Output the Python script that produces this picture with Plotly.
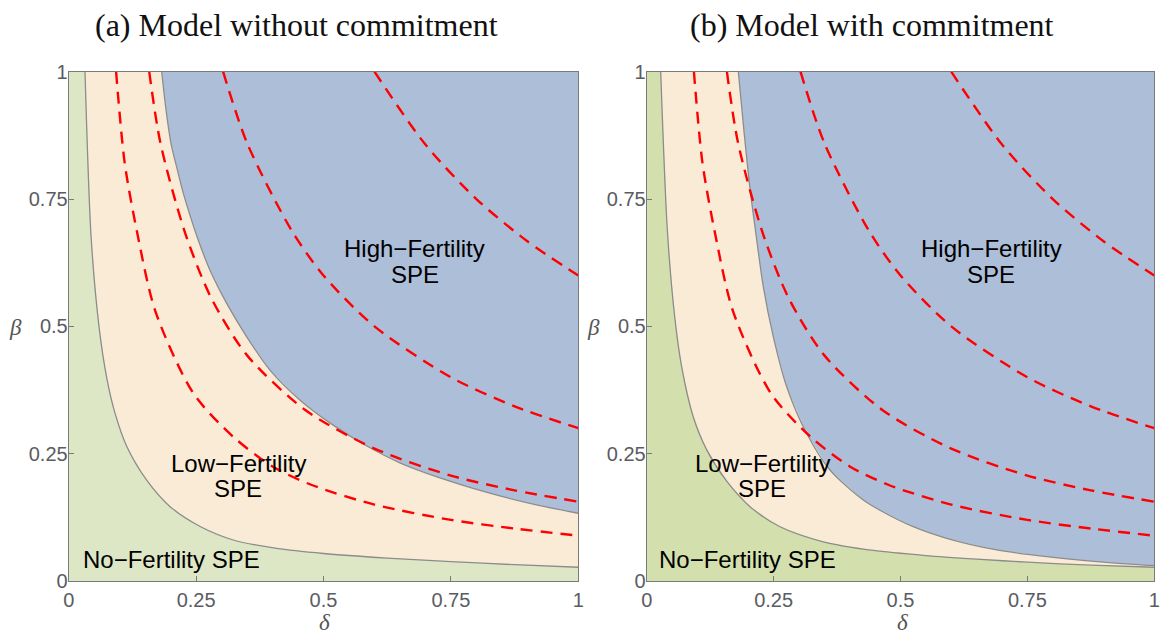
import plotly.graph_objects as go

# ---------------- data ----------------
AX_MIN, AX_MAX = 0.0, 1.0
TICK_VALS = [0, 0.25, 0.5, 0.75, 1]
TICK_TEXT = ["0", "0.25", "0.5", "0.75", "1"]

# Panel (a): No/Low-fertility boundary
A_NO_D = [0.032, 0.044, 0.060, 0.075, 0.091, 0.114, 0.153, 0.199, 0.258, 0.323, 0.408, 0.50, 0.625, 0.75, 0.875, 1.0]
A_NO_B = [1.000, 0.675, 0.495, 0.397, 0.329, 0.264, 0.198, 0.146, 0.107, 0.0805, 0.064, 0.054, 0.045, 0.038, 0.032, 0.027]
# Panel (a): Low/High-fertility boundary
A_HI_D = [0.1825, 0.191, 0.2008, 0.212, 0.225, 0.239, 0.254, 0.2773, 0.31, 0.349, 0.395, 0.454, 0.519, 0.585, 0.65, 0.748, 0.846, 0.92, 1.0]
A_HI_B = [1.000, 0.925, 0.859, 0.812, 0.761, 0.715, 0.670, 0.610, 0.545, 0.480, 0.414, 0.355, 0.306, 0.265, 0.232, 0.196, 0.167, 0.149, 0.133]

# Panel (b): No/Low-fertility boundary
B_NO_D = [0.0276, 0.0406, 0.055, 0.069, 0.0918, 0.118, 0.1576, 0.2035, 0.2626, 0.348, 0.4465, 0.55, 0.65, 0.75, 0.875, 1.0]
B_NO_B = [1.000, 0.690, 0.520, 0.420, 0.322, 0.258, 0.196, 0.146, 0.1066, 0.077, 0.060, 0.050, 0.043, 0.037, 0.031, 0.027]
# Panel (b): Low/High-fertility boundary
B_HI_D = [0.1805, 0.192, 0.2035, 0.2134, 0.2297, 0.2494, 0.2758, 0.315, 0.361, 0.4267, 0.4594, 0.525, 0.591, 0.69, 0.788, 0.887, 1.0]
B_HI_B = [1.000, 0.880, 0.770, 0.695, 0.578, 0.480, 0.3815, 0.290, 0.218, 0.159, 0.139, 0.1066, 0.0838, 0.061, 0.0477, 0.038, 0.030]

# Red dashed iso-curves (same in both panels)
D1_D = [0.093, 0.11, 0.1346, 0.17, 0.2446, 0.323, 0.40, 0.477, 0.60, 0.75, 0.875, 1.0]
D1_B = [1.000, 0.82, 0.683, 0.53, 0.3686, 0.283, 0.225, 0.1885, 0.150, 0.120, 0.103, 0.089]
D2_D = [0.158, 0.18, 0.2286, 0.28, 0.35, 0.4642, 0.60, 0.75, 0.875, 1.0]
D2_B = [1.000, 0.86, 0.683, 0.555, 0.443, 0.3358, 0.260, 0.207, 0.178, 0.1557]
D3_D = [0.303, 0.35, 0.4376, 0.50, 0.60, 0.75, 0.875, 1.0]
D3_B = [1.000, 0.86, 0.688, 0.60, 0.50, 0.40, 0.343, 0.30]
D4_D = [0.60, 0.70, 0.80, 0.90, 1.0]
D4_B = [1.000, 0.857, 0.75, 0.667, 0.60]

TITLES = ["(a) Model without commitment", "(b) Model with commitment"]
HIGH_LABEL = ["High\u2212Fertility", "SPE"]
LOW_LABEL = ["Low\u2212Fertility", "SPE"]
NO_LABEL = "No\u2212Fertility SPE"

# ---------------- styles ----------------
W, H = 1161, 634
GREEN = ["#DEE7C5", "#D3E0AE"]
BEIGE = "#FAEBD7"
BLUE = "#ADBED9"
EDGE = "#8C8C8C"
FRAME = "#7A7A7A"
TICKC = "#5A5C62"
RED = "#FF0000"

# plot areas in page pixels (left, right) ; shared top/bottom
PANEL_PX = [(68.7, 578.3), (646.7, 1154.3)]
TOP_PX, BOT_PX = 71.7, 581.0


def px(x):
    return x / W


def py(y):
    return 1 - y / H


fig = go.Figure()

panels = [
    (A_NO_D, A_NO_B, A_HI_D, A_HI_B),
    (B_NO_D, B_NO_B, B_HI_D, B_HI_B),
]

for i, (nd, nb, hd, hb) in enumerate(panels):
    xa = "x" if i == 0 else "x2"
    ya = "y" if i == 0 else "y2"
    fig.add_trace(go.Scatter(
        x=[AX_MIN, AX_MAX, AX_MAX, AX_MIN], y=[AX_MIN, AX_MIN, AX_MAX, AX_MAX],
        fill="toself", fillcolor=GREEN[i], line=dict(width=0), mode="lines",
        hoverinfo="skip", showlegend=False, xaxis=xa, yaxis=ya))
    fig.add_trace(go.Scatter(
        x=nd + [AX_MAX], y=nb + [AX_MAX],
        fill="toself", fillcolor=BEIGE, line=dict(width=0), mode="lines",
        hoverinfo="skip", showlegend=False, xaxis=xa, yaxis=ya))
    fig.add_trace(go.Scatter(
        x=hd + [AX_MAX], y=hb + [AX_MAX],
        fill="toself", fillcolor=BLUE, line=dict(width=0), mode="lines",
        hoverinfo="skip", showlegend=False, xaxis=xa, yaxis=ya))
    for d, b in ((nd, nb), (hd, hb)):
        fig.add_trace(go.Scatter(
            x=d, y=b, mode="lines", line=dict(color=EDGE, width=1.3, shape="spline", smoothing=0.8),
            hoverinfo="skip", showlegend=False, xaxis=xa, yaxis=ya))
    for d, b in ((D1_D, D1_B), (D2_D, D2_B), (D3_D, D3_B), (D4_D, D4_B)):
        fig.add_trace(go.Scatter(
            x=d, y=b, mode="lines",
            line=dict(color=RED, width=2.4, dash="12px,8px", shape="spline", smoothing=0.8),
            hoverinfo="skip", showlegend=False, xaxis=xa, yaxis=ya))

axis_common = dict(
    range=[AX_MIN, AX_MAX], showgrid=False, zeroline=False, automargin=False,
    showline=True, mirror=True, linecolor=FRAME, linewidth=1,
    ticks="inside", ticklen=5, tickwidth=1, tickcolor=FRAME,
    tickvals=TICK_VALS, ticktext=TICK_TEXT,
    tickfont=dict(family="Liberation Sans, Arial, sans-serif", size=20, color=TICKC),
    fixedrange=True,
)
ydom = [py(BOT_PX), py(TOP_PX)]
fig.update_layout(
    template="none",
    width=W, height=H,
    margin=dict(l=0, r=0, t=0, b=0, pad=0, autoexpand=False),
    paper_bgcolor="white", plot_bgcolor="white",
    showlegend=False,
    xaxis=dict(axis_common, ticklabelstandoff=1, domain=[px(PANEL_PX[0][0]), px(PANEL_PX[0][1])], anchor="y"),
    yaxis=dict(axis_common, ticklabelstandoff=-4, domain=ydom, anchor="x"),
    xaxis2=dict(axis_common, ticklabelstandoff=1, domain=[px(PANEL_PX[1][0]), px(PANEL_PX[1][1])], anchor="y2"),
    yaxis2=dict(axis_common, ticklabelstandoff=-4, domain=ydom, anchor="x2"),
)

ann = []
serif = "Liberation Serif, Times New Roman, serif"
sans = "Liberation Sans, Arial, sans-serif"
title_cx = [296, 872]
for i, (l, r) in enumerate(PANEL_PX):
    ann.append(dict(x=px(title_cx[i]), y=py(5), xref="paper", yref="paper", text=TITLES[i],
                    showarrow=False, font=dict(family=serif, size=32, color="#111"),
                    xanchor="center", yanchor="top"))
    ann.append(dict(x=px(l - 53), y=py(327), xref="paper", yref="paper", text="<i>β</i>",
                    showarrow=False, font=dict(family=serif, size=23, color="#555"),
                    xanchor="center", yanchor="middle"))
    ann.append(dict(x=px(l + 256), y=py(622), xref="paper", yref="paper", text="<i>δ</i>",
                    showarrow=False, font=dict(family=serif, size=23, color="#555"),
                    xanchor="center", yanchor="middle"))

label_pos = [
    dict(high=(415, 248, 274), low=(238, 463, 488), no=(171, 559)),
    dict(high=(991, 248, 274), low=(762, 463, 488), no=(747.5, 559)),
]
for i, lp in enumerate(label_pos):
    for (key, lines) in (("high", HIGH_LABEL), ("low", LOW_LABEL)):
        x0, y1, y2 = lp[key]
        for txt, yy in zip(lines, (y1, y2)):
            ann.append(dict(x=px(x0), y=py(yy), xref="paper", yref="paper", text=txt,
                            showarrow=False, font=dict(family=sans, size=24, color="black"),
                            xanchor="center", yanchor="middle"))
    x0, y0 = lp["no"]
    ann.append(dict(x=px(x0), y=py(y0), xref="paper", yref="paper", text=NO_LABEL,
                    showarrow=False, font=dict(family=sans, size=24, color="black"),
                    xanchor="center", yanchor="middle"))

fig.update_layout(annotations=ann)
fig.write_html(
    "out.html",
    config={"displayModeBar": False, "staticPlot": True},
    post_script="document.body.style.margin='0';document.documentElement.style.overflow='hidden';",
)
